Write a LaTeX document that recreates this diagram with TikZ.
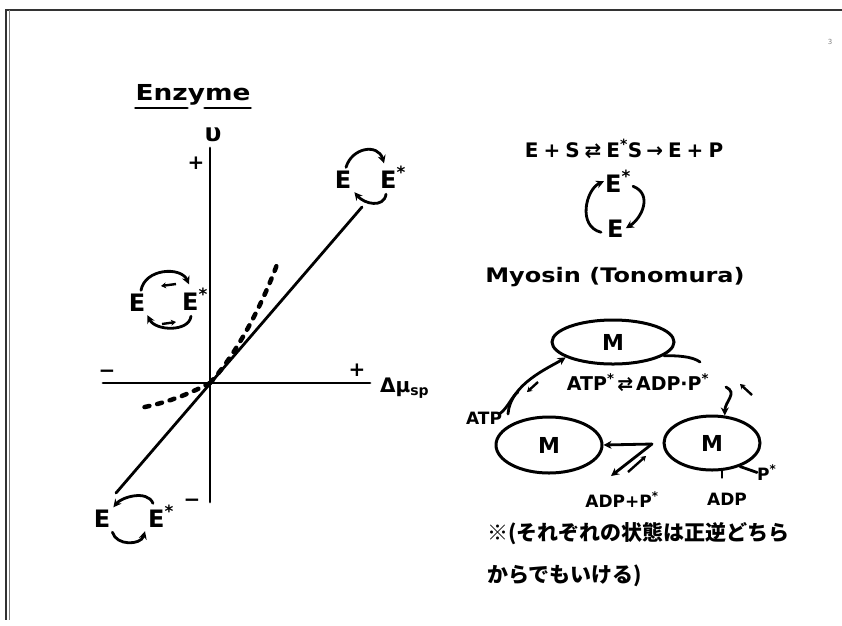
\documentclass[tikz,border=0pt]{standalone}
\usepackage{fontspec}
\setmainfont{DejaVu Sans}
\newfontfamily\wide{DejaVu Sans}[FakeStretch=1.2]
\newfontfamily\jp{Noto Sans CJK JP}
\usetikzlibrary{arrows.meta,shapes.geometric,calc}
\begin{document}
\begin{tikzpicture}[x=1pt,y=-1pt,
  ink/.style={line width=2.8pt, line cap=round},
  arr/.style={ink, -{Stealth[length=8pt,width=8pt]}},
  sarr/.style={line width=2.4pt, -{Stealth[length=5pt,width=6pt]}},
  lbl/.style={inner sep=0pt, font=\fontsize{20}{22}\selectfont\bfseries},
  sml/.style={inner sep=0pt, font=\fontsize{17}{19}\selectfont\bfseries},
  big/.style={inner sep=0pt, font=\fontsize{24}{26}\selectfont\bfseries},
  ttl/.style={inner sep=0pt, font=\fontsize{22}{24}\selectfont\wide\bfseries},
  jtxt/.style={inner sep=0pt, anchor=west, font=\fontsize{21}{23}\selectfont\jp\bfseries},
  ell/.style={draw, ellipse, line width=3pt, inner sep=0pt, font=\fontsize{22}{24}\selectfont\bfseries},
  dots/.style={line width=4.5pt, line cap=round, dash pattern=on 5pt off 8pt},
  frame/.style={line width=2.5pt, black!80}]
\useasboundingbox (0,0) rectangle (842,625);
% frame
\coordinate (fTL) at (6,10);
\coordinate (fTR) at (842,10);
\coordinate (fBL) at (6,620);
\draw[frame] (fTR) -- (fTL) -- (fBL);
\draw[line width=1pt, black!50] ([xshift=3pt]fTL) -- ([xshift=3pt]fBL);
\node[inner sep=0pt, font=\scriptsize, text=black!50] (pg) at (830,42) {3};

% ---------- Enzyme graph ----------
\node[ttl, anchor=base] (title) at (193,100) {Enzyme};
\draw[ink] ($(title.base west)+(0,8)$) -- ($(title.base west)+(52,8)$);
\draw[ink] ($(title.base east)+(-46,8)$) -- ($(title.base east)+(0,8)$);

\coordinate (O) at (210,383);
\coordinate (vtop) at (210,148);
\coordinate (vbot) at (210,502);
\coordinate (hl) at (103,383);
\coordinate (hr) at (370,383);
\draw[ink] (vtop) -- (vbot);
\draw[ink] (hl) -- (hr);
\node[inner sep=0pt, font=\fontsize{25}{27}\selectfont\bfseries, anchor=base] (vlab) at (213,141) {υ};
\node[lbl] (vplus) at (196,163) {+};
\node[lbl] (hminus) at (107,374) {−};
\node[lbl] (hplus) at (357,370) {+};
\node[lbl, anchor=base west] (dmu) at (380,392) {Δμ\textsubscript{sp}};

% solid line and dotted curves
\coordinate (lA) at (116,493);
\coordinate (lB) at (362,207);
\draw[ink] (lA) -- (lB);
\coordinate (dTop) at (278,262);
\coordinate (dBot) at (140,408);
\draw[dots] (O) .. controls (238,352) and (262,305) .. (dTop);
\draw[dots] (O) .. controls (185,396) and (165,403) .. (dBot);

% cycle top right (clockwise)
\node[big, anchor=base] (e1) at (343,188) {E};
\node[big, anchor=base west] (e1s) at (380,188) {E\textsuperscript{*}};
\draw[arr] ([shift={(3,-3)}]e1.north) .. controls +(6,-20) and +(-6,-20) .. ([shift={(4,-3)}]e1s.north west);
\draw[arr] ([shift={(6,6)}]e1s.south west) .. controls +(-2,14) and +(10,12) .. ([shift={(3,4)}]e1.south east);

% cycle middle left (both directions)
\node[big, anchor=base] (e2) at (137,311) {E};
\node[big, anchor=base west] (e2s) at (182,310) {E\textsuperscript{*}};
\draw[arr] ([shift={(4,-3)}]e2.north) .. controls +(4,-22) and +(-8,-18) .. ([shift={(7,-4)}]e2s.north west);
\draw[sarr] (176,284) -- (161,286);
\draw[arr] ([shift={(9,6)}]e2s.south west) .. controls +(-2,16) and +(8,16) .. ([shift={(2,4)}]e2.south east);
\draw[sarr] (162,324) -- (176,322);

% cycle bottom left (counter-clockwise)
\node[big, anchor=base] (e3) at (102,527) {E};
\node[big, anchor=base west] (e3s) at (148,527) {E\textsuperscript{*}};
\draw[arr] ([shift={(5,-2)}]e3s.north west) .. controls +(-6,-14) and +(8,-10) .. ([shift={(3,-2)}]e3.north east);
\draw[arr] ([shift={(2,5)}]e3.south east) .. controls +(4,14) and +(-4,14) .. ([shift={(-3,4)}]e3s.south west);
\node[lbl] (vminus) at (192,503) {−};

% ---------- right side ----------
\node[lbl, anchor=base] (eq) at (624,157) {E\hspace{0.25em}+\hspace{0.25em}S\hspace{0.25em}⇄\hspace{0.25em}E\textsuperscript{*}S\hspace{0.2em}→\hspace{0.25em}E\hspace{0.25em}+\hspace{0.25em}P};

\node[big, anchor=base west] (m1) at (605,192) {E\textsuperscript{*}};
\node[big, anchor=base west] (m2) at (607,237) {E};
\draw[arr] ([shift={(-6,4)}]m2.west) .. controls +(-24,-6) and +(-18,8) .. ([xshift=-1pt]m1.west);
\draw[arr] ([shift={(2,5)}]m1.east) .. controls +(20,8) and +(16,-10) .. ([xshift=2pt]m2.east);

\node[ttl, font=\fontsize{20}{22}\selectfont\wide\bfseries, anchor=base] (myo) at (615,282) {Myosin (Tonomura)};

% Myosin cycle
\node[ell, minimum width=122pt, minimum height=44pt] (Mt) at (613,342) {M};
\node[ell, minimum width=106pt, minimum height=56pt] (Ml) at (549,445) {M};
\node[ell, minimum width=96pt, minimum height=54pt] (Mr) at (712,443) {M};

\node[inner sep=0pt, font=\fontsize{19}{21}\selectfont\bfseries, anchor=base] (rx) at (638,390) {ATP\textsuperscript{*}\hspace{0.15em}⇄\hspace{0.15em}ADP·P\textsuperscript{*}};
\coordinate (pst) at (700,362);
\draw[ink] (Mt.-15) .. controls +(12,0) and +(-8,-6) .. (pst);
\coordinate (dnS) at (726,387);
\draw[arr] (dnS) .. controls +(12,6) and +(0,-14) .. (Mr.65);
\draw[sarr] (752,395) -- (740,384);

\node[sml, anchor=base] (atp) at (484,424) {ATP};
\coordinate (upS) at (508,414);
\draw[arr] (upS) .. controls +(2,-30) and +(-16,10) .. (Mt.198);
\draw[ink] ([shift={(-2,2)}]atp.north east) .. controls +(8,-6) and +(-6,4) .. (518,392);
\draw[sarr] (538,382) -- (527,392);

\coordinate (hA) at (652,444);
\draw[arr] (hA) -- (Ml.east);
\coordinate (dgE) at (611,476);
\draw[arr] (hA) -- (dgE);
\coordinate (smA) at (628,472);
\coordinate (smB) at (646,456);
\draw[sarr] (smA) -- (smB);

\node[sml, anchor=base] (adpp) at (622,507) {ADP+P\textsuperscript{*}};
\node[sml, anchor=base] (adp) at (727,505) {ADP};
\node[sml, anchor=base west] (ps) at (757,480) {P\textsuperscript{*}};
\draw[ink] (Mr.south) ++(10,0) -- ++(0,6);
\draw[ink] (Mr.-40) -- (ps.west);

\node[jtxt] (jp1) at (487,534) {※(それぞれの状態は正逆どちら};
\node[jtxt] (jp2) at (487,576) {からでもいける)};
\end{tikzpicture}
\end{document}
